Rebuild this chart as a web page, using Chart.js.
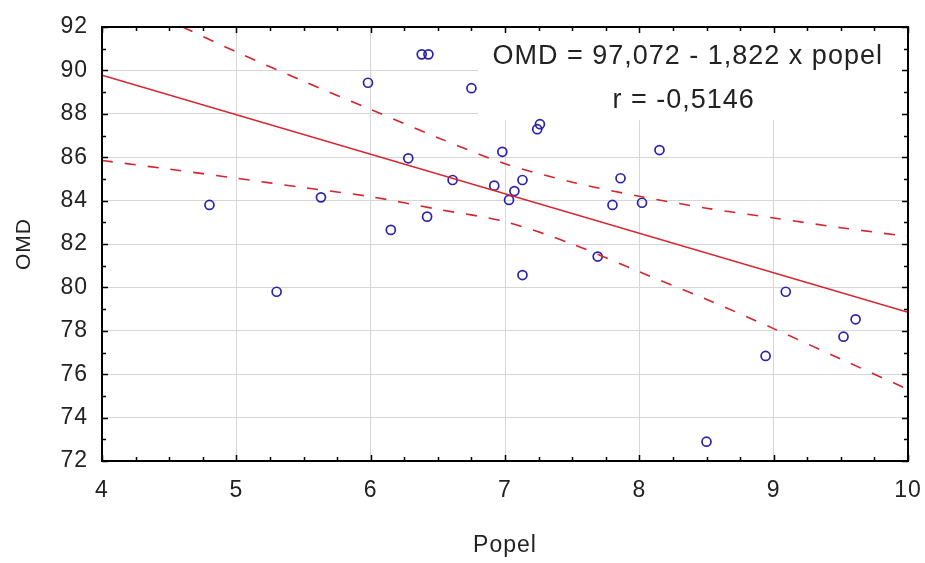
<!DOCTYPE html>
<html>
<head>
<meta charset="utf-8">
<script src="https://cdn.jsdelivr.net/npm/chart.js@4/dist/chart.umd.min.js"></script>
<style>
  html, body { margin: 0; padding: 0; background: #fff; }
  #wrap { width: 925px; height: 563px; }
</style>
</head>
<body>
<div id="wrap"><canvas id="chart"></canvas></div>
<script>
// Popel (x) vs OMD (y)
const popel = [4.80, 5.30, 5.63, 5.98, 6.15, 6.28, 6.38, 6.43, 6.42, 6.61, 6.75, 6.92, 6.98, 7.03, 7.07,
               7.13, 7.13, 7.24, 7.26, 7.69, 7.80, 7.86, 8.02, 8.15, 8.50, 8.94, 9.09, 9.52, 9.61];
const omd   = [83.80, 79.80, 84.15, 89.43, 82.65, 85.95, 90.74, 90.74, 83.26, 84.95, 89.18, 84.69, 86.25, 84.03, 84.44,
               84.95, 80.57, 87.29, 87.52, 81.42, 83.80, 85.03, 83.90, 86.33, 72.89, 76.84, 79.80, 77.73, 78.53];

// regression line and 95% band
const fitX = [4, 10];
const fitY = [89.78, 78.85];
const upperX = [4.6, 5, 5.5, 6, 6.5, 7, 7.5, 8, 8.5, 9, 9.5, 10];
const upperY = [92.0, 90.85, 89.5, 88.2, 86.9, 85.7, 84.85, 84.2, 83.65, 83.2, 82.75, 82.35];
const lowerX = [4, 4.5, 5, 5.5, 6, 6.5, 7, 7.5, 8, 8.5, 9, 9.5, 10];
const lowerY = [85.85, 85.45, 85.03, 84.6, 84.18, 83.6, 83.03, 82.0, 80.72, 79.45, 78.1, 76.7, 75.3];

const xTicks = [4, 5, 6, 7, 8, 9, 10];
const yTicks = [72, 74, 76, 78, 80, 82, 84, 86, 88, 90, 92];
const eqText = 'OMD = 97,072 - 1,822 x popel';
const rText = 'r = -0,5146';

const FONT = '"Liberation Sans", Arial, sans-serif';
const RED = '#d8222c';
const toPts = (xs, ys) => xs.map((v, i) => ({x: v, y: ys[i]}));

// white box with the equation, inward ticks and the black frame
const decor = {
  id: 'decor',
  beforeDraw(chart) { chart.ctx.letterSpacing = '1px'; },
  beforeDatasetsDraw(chart) {
    const {ctx, chartArea: a, scales: {x, y}} = chart;
    const bx = x.getPixelForValue(6.8), by = y.getPixelForValue(87.7);
    ctx.save();
    ctx.fillStyle = '#fff';
    ctx.fillRect(bx, a.top, a.right - bx, by - a.top);
    ctx.fillStyle = '#222';
    ctx.font = '27px ' + FONT;
    ctx.letterSpacing = '1px';
    ctx.textAlign = 'center';
    ctx.textBaseline = 'middle';
    ctx.fillText(eqText, x.getPixelForValue(8.36), a.top + 30);
    ctx.fillText(rText, x.getPixelForValue(8.33), a.top + 74);
    ctx.restore();
  },
  afterDraw(chart) {
    const {ctx, chartArea: a, scales: {x, y}} = chart;
    ctx.save();
    ctx.strokeStyle = '#000';
    ctx.lineWidth = 1.5;
    ctx.beginPath();
    for (let v = 4; v <= 10.001; v += 0.25) {
      const px = Math.round(x.getPixelForValue(v)) + 0.5;
      const len = Math.abs(v - Math.round(v)) < 0.01 ? 6 : 4;
      ctx.moveTo(px, a.bottom); ctx.lineTo(px, a.bottom - len);
      ctx.moveTo(px, a.top); ctx.lineTo(px, a.top + len);
    }
    for (let v = 72; v <= 92; v += 1) {
      const py = Math.round(y.getPixelForValue(v)) + 0.5;
      const len = v % 2 === 0 ? 6 : 4;
      ctx.moveTo(a.left, py); ctx.lineTo(a.left + len, py);
      ctx.moveTo(a.right, py); ctx.lineTo(a.right - len, py);
    }
    ctx.stroke();
    ctx.lineWidth = 2;
    ctx.strokeRect(a.left, a.top, a.right - a.left, a.bottom - a.top);
    ctx.restore();
  }
};

new Chart(document.getElementById('chart'), {
  type: 'scatter',
  data: {
    datasets: [
      { data: toPts(fitX, fitY), showLine: true, borderColor: RED, borderWidth: 1.6,
        pointRadius: 0, clip: 0 },
      { data: toPts(upperX, upperY), showLine: true, borderColor: RED, borderWidth: 1.6,
        borderDash: [11, 12], pointRadius: 0, tension: 0.3, clip: 0 },
      { data: toPts(lowerX, lowerY), showLine: true, borderColor: RED, borderWidth: 1.6,
        borderDash: [11, 12], pointRadius: 0, tension: 0.3, clip: 0 },
      { data: toPts(popel, omd), pointRadius: 4.5, pointBorderWidth: 1.7,
        pointBorderColor: '#2a22aa', pointBackgroundColor: 'rgba(0,0,0,0)' }
    ]
  },
  options: {
    responsive: true,
    maintainAspectRatio: false,
    animation: false,
    events: [],
    layout: { padding: { top: 27, right: 17, left: 0, bottom: 0 } },
    plugins: { legend: { display: false }, tooltip: { enabled: false } },
    scales: {
      x: {
        type: 'linear', min: 4, max: 10,
        afterBuildTicks: s => { s.ticks = xTicks.map(v => ({value: v})); },
        afterFit: s => { s.height = 102; s.paddingLeft = 0; s.paddingRight = 0; },
        grid: { color: '#d6d6d6', lineWidth: 1, drawTicks: false },
        border: { display: false },
        ticks: { color: '#222', font: { size: 23, family: FONT }, padding: 16, maxRotation: 0 },
        title: { display: true, text: 'Popel', color: '#222', font: { size: 23, family: FONT },
                 padding: { top: 0, bottom: 4 } }
      },
      y: {
        min: 72, max: 92,
        afterBuildTicks: s => { s.ticks = yTicks.map(v => ({value: v})); },
        afterFit: s => { s.width = 102; s.paddingTop = 0; s.paddingBottom = 0; },
        grid: { color: '#d6d6d6', lineWidth: 1, drawTicks: false },
        border: { display: false },
        ticks: { color: '#222', font: { size: 23, family: FONT }, padding: 14 },
        title: { display: true, text: 'OMD', color: '#222', font: { size: 21, family: FONT },
                 padding: { top: 12, bottom: 0 } }
      }
    }
  },
  plugins: [decor]
});
</script>
</body>
</html>
